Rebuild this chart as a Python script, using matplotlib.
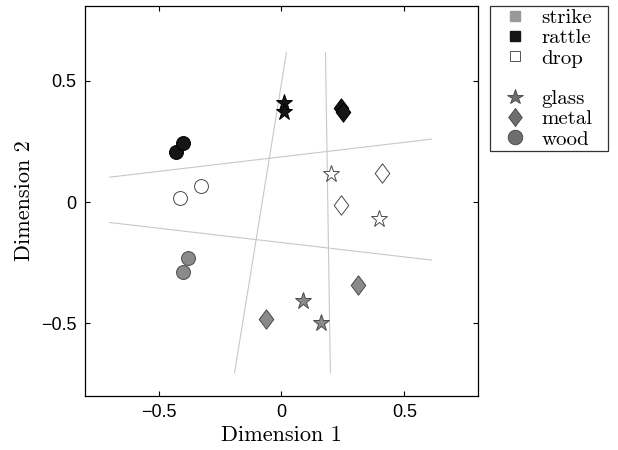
import numpy as np
import matplotlib
matplotlib.use('Agg')
import matplotlib.pyplot as plt
from matplotlib.lines import Line2D

# points, grouped by cue
strike_mat = ['glass', 'glass', 'metal', 'metal', 'wood', 'wood']
strike_x = [0.087, 0.159, -0.062, 0.312, -0.381, -0.400]
strike_y = [-0.410, -0.499, -0.481, -0.342, -0.232, -0.289]

rattle_mat = ['glass', 'glass', 'metal', 'metal', 'wood', 'wood']
rattle_x = [0.010, 0.012, 0.243, 0.252, -0.430, -0.400]
rattle_y = [0.410, 0.370, 0.390, 0.370, 0.205, 0.243]

drop_mat = ['glass', 'glass', 'metal', 'metal', 'wood', 'wood']
drop_x = [0.203, 0.398, 0.408, 0.241, -0.415, -0.326]
drop_y = [0.115, -0.071, 0.120, -0.011, 0.018, 0.066]

# boundary lines (end points)
line_x = [[-0.70, 0.61], [-0.70, 0.61], [0.020, -0.191], [0.179, 0.199]]
line_y = [[0.103, 0.260], [-0.084, -0.239], [0.617, -0.704], [0.617, -0.704]]

cue_face = {'strike': '#8a8a8a', 'rattle': '#151515', 'drop': 'white'}
cue_edge = {'strike': '#4a4a4a', 'rattle': '#000000', 'drop': '#4a4a4a'}
diamond = [(0, 1), (0.75, 0), (0, -1), (-0.75, 0), (0, 1)]
mat_marker = {'glass': '*', 'metal': diamond, 'wood': 'o'}
mat_size = {'glass': 12.5, 'metal': 14, 'wood': 10}

serif = 'cmr10'

fig = plt.figure(figsize=(6.18, 4.5), dpi=100)
ax = fig.add_axes([0.1375, 0.12, 0.636, 0.867])

for lx, ly in zip(line_x, line_y):
    ax.plot(lx, ly, color='#c8c8c8', lw=0.8, zorder=1)

for cue, mats, xs, ys in [('strike', strike_mat, strike_x, strike_y),
                          ('rattle', rattle_mat, rattle_x, rattle_y),
                          ('drop', drop_mat, drop_x, drop_y)]:
    for m, x, y in zip(mats, xs, ys):
        ax.plot(x, y, linestyle='none', marker=mat_marker[m], ms=mat_size[m],
                mfc=cue_face[cue], mec=cue_edge[cue], mew=0.7, zorder=3)

ax.set_xlim(-0.8, 0.8)
ax.set_ylim(-0.8, 0.81)
ax.set_xticks([-0.5, 0, 0.5])
ax.set_yticks([-0.5, 0, 0.5])
ax.set_xticklabels(['\u22120.5', '0', '0.5'])
ax.set_yticklabels(['\u22120.5', '0', '0.5'])
ax.tick_params(direction='in', length=3.5, width=0.8, top=True, right=True,
               labelsize=13, pad=6)
for lab in ax.get_xticklabels() + ax.get_yticklabels():
    lab.set_family('Liberation Sans')
for s in ax.spines.values():
    s.set_linewidth(0.9)

ax.set_xlabel('Dimension 1', family=serif, fontsize=16, labelpad=3)
ax.set_ylabel('Dimension 2', family=serif, fontsize=16, labelpad=5)

handles = [
    Line2D([], [], ls='none', marker='s', ms=6.5, mfc='#999999', mec='#999999'),
    Line2D([], [], ls='none', marker='s', ms=6.5, mfc='#151515', mec='#151515'),
    Line2D([], [], ls='none', marker='s', ms=6.5, mfc='white', mec='#555555', mew=0.7),
    Line2D([], [], ls='none'),
    Line2D([], [], ls='none', marker='*', ms=11.5, mfc='#6e6e6e', mec='#444444', mew=0.6),
    Line2D([], [], ls='none', marker=diamond, ms=13, mfc='#6e6e6e', mec='#444444', mew=0.6),
    Line2D([], [], ls='none', marker='o', ms=10.5, mfc='#6e6e6e', mec='#444444', mew=0.6),
]
labels = ['strike', 'rattle', 'drop', '', 'glass', 'metal', 'wood']
leg = fig.legend(handles, labels, loc='upper left',
                 bbox_to_anchor=(490 / 618, 1 - 155 / 450, 118 / 618, 149 / 450),
                 mode='expand', borderaxespad=0,
                 prop={'family': serif, 'size': 15}, frameon=True, fancybox=False,
                 edgecolor='black', borderpad=0.12, labelspacing=0.08,
                 handletextpad=0.15, handlelength=2.2)
leg.get_frame().set_linewidth(0.9)

fig.savefig('out.png', dpi=100)
